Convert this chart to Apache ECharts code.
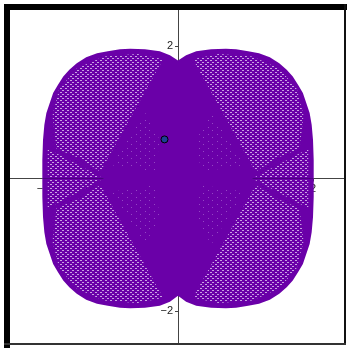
<!DOCTYPE html>
<html>
<head>
<meta charset="utf-8">
<script src="https://cdn.jsdelivr.net/npm/echarts@6/dist/echarts.min.js"></script>
<style>
  html, body { margin: 0; padding: 0; background: #fff; }
  #chart { width: 347px; height: 348px; }
</style>
</head>
<body>
<div id="chart"></div>
<script>
// Outer boundary of the traced curve (x, y), clockwise from the top cusp
const outline = [
  [0, 1.78], [0.12, 1.86], [0.27, 1.92], [0.49, 1.95], [0.71, 1.96], [0.86, 1.95],
  [1.04, 1.92], [1.20, 1.89], [1.36, 1.83], [1.50, 1.74], [1.61, 1.64], [1.70, 1.54],
  [1.78, 1.41], [1.85, 1.29], [1.90, 1.14], [1.95, 0.99], [1.98, 0.81], [2.00, 0.58],
  [2.01, 0.28], [2.01, 0],
  [2.01, -0.28], [2.00, -0.58], [1.98, -0.81], [1.95, -0.99], [1.90, -1.14], [1.85, -1.29],
  [1.78, -1.41], [1.70, -1.54], [1.61, -1.64], [1.50, -1.74], [1.36, -1.83], [1.20, -1.89],
  [1.04, -1.92], [0.86, -1.95], [0.71, -1.96], [0.49, -1.95], [0.27, -1.92], [0.12, -1.86],
  [0, -1.77],
  [-0.12, -1.86], [-0.27, -1.92], [-0.49, -1.95], [-0.71, -1.96], [-0.86, -1.95],
  [-1.04, -1.92], [-1.20, -1.89], [-1.36, -1.83], [-1.50, -1.74], [-1.61, -1.64], [-1.70, -1.54],
  [-1.78, -1.41], [-1.85, -1.29], [-1.90, -1.14], [-1.95, -0.99], [-1.98, -0.81], [-2.00, -0.58],
  [-2.01, -0.28], [-2.01, 0],
  [-2.01, 0.28], [-2.00, 0.58], [-1.98, 0.81], [-1.95, 0.99], [-1.90, 1.14], [-1.85, 1.29],
  [-1.78, 1.41], [-1.70, 1.54], [-1.61, 1.64], [-1.50, 1.74], [-1.36, 1.83], [-1.20, 1.89],
  [-1.04, 1.92], [-0.86, 1.95], [-0.71, 1.96], [-0.49, 1.95], [-0.27, 1.92], [-0.12, 1.86]
];

// Open lattice regions where the strands spread apart
const meshUpperLeft = [
  [-0.22, 1.80], [-1.15, 0.10], [-1.45, 0.30], [-1.80, 0.45], [-1.86, 0.95],
  [-1.76, 1.35], [-1.50, 1.66], [-1.10, 1.84], [-0.60, 1.88]
];
const meshUpperRight = [
  [0.22, 1.80], [1.15, 0.10], [1.45, 0.30], [1.80, 0.45], [1.86, 0.95],
  [1.76, 1.35], [1.50, 1.66], [1.10, 1.84], [0.60, 1.88]
];
const meshLowerLeft = [
  [-0.22, -1.80], [-1.15, -0.10], [-1.45, -0.30], [-1.80, -0.45], [-1.86, -0.95],
  [-1.76, -1.35], [-1.50, -1.66], [-1.10, -1.84], [-0.60, -1.88]
];
const meshLowerRight = [
  [0.22, -1.80], [1.15, -0.10], [1.45, -0.30], [1.80, -0.45], [1.86, -0.95],
  [1.76, -1.35], [1.50, -1.66], [1.10, -1.84], [0.60, -1.88]
];
const fanLeft = [[-1.93, 0.45], [-1.10, 0.0], [-1.93, -0.45]];
const fanRight = [[1.93, 0.45], [1.10, 0.0], [1.93, -0.45]];

// Sparse speckled patches inside the central lens
const speckUpperLeft = [[-0.49, 1.00], [-0.98, 0.20], [-0.34, 0.10], [-0.27, 0.58]];
const speckUpperRight = [[0.49, 1.00], [0.98, 0.20], [0.34, 0.10], [0.27, 0.58]];
const speckLowerLeft = [[-0.49, -1.00], [-0.98, -0.20], [-0.34, -0.10], [-0.27, -0.58]];
const speckLowerRight = [[0.49, -1.00], [0.98, -0.20], [0.34, -0.10], [0.27, -0.58]];

// Dense strands running along the x axis through the side fans
const seamLeft = [[-2.0, 0], [-1.1, 0]];
const seamRight = [[1.1, 0], [2.0, 0]];

// Marked point
const marker = [[-0.20, 0.59]];

// Tick values shown on each axis
const xTicks = [-2, 2];
const yTicks = [-2, 2];

const PURPLE = '#6a00a8';

// Tiles used to fill the open-lattice and speckled regions
function tile(w, h, dots, color) {
  const c = document.createElement('canvas');
  c.width = w; c.height = h;
  const g = c.getContext('2d');
  g.fillStyle = PURPLE;
  g.fillRect(0, 0, w, h);
  g.fillStyle = color;
  dots.forEach(d => g.fillRect(d[0], d[1], d[2], d[3]));
  return c;
}
const lattice = {
  image: tile(5, 4, [[0, 0, 2, 1], [3, 2, 1, 1], [2, 2, 1, 1]], 'rgba(242,230,252,0.7)'),
  repeat: 'repeat'
};
const speckle = {
  image: tile(9, 7, [[1, 1, 1, 1], [5, 4, 1, 1]], 'rgba(225,200,250,0.35)'),
  repeat: 'repeat'
};

function regionSeries(points, fill, z) {
  return {
    type: 'custom',
    coordinateSystem: 'cartesian2d',
    data: points,
    z: z,
    silent: true,
    renderItem: function (params, api) {
      if (params.dataIndex !== 0) return;
      return {
        type: 'polygon',
        shape: { points: points.map(p => api.coord(p)) },
        style: { fill: fill }
      };
    }
  };
}

function seamSeries(points) {
  return {
    type: 'line', data: points, z: 4, silent: true, symbol: 'none',
    lineStyle: { color: '#4c0080', width: 1 }
  };
}

const fmt = v => (v < 0 ? '\u2212' + Math.abs(v) : String(v));
const labelFont = 'Liberation Sans, Arial, sans-serif';

const chart = echarts.init(document.getElementById('chart'), null, { renderer: 'canvas' });
chart.setOption({
  animation: false,
  backgroundColor: '#fff',
  grid: { left: 10, right: 3, top: 10, bottom: 5, containLabel: false, outerBoundsMode: 'none' },
  xAxis: {
    type: 'value', min: -2.489, max: 2.459,
    position: 'bottom', offset: -164.5,
    axisLine: { onZero: false, lineStyle: { color: '#444', width: 1 } },
    axisTick: { show: true, customValues: xTicks, length: 3, lineStyle: { color: '#444' } },
    axisLabel: { customValues: xTicks, formatter: fmt, color: '#222', fontSize: 11,
                 fontFamily: labelFont, margin: 5 },
    splitLine: { show: false }
  },
  yAxis: {
    type: 'value', min: -2.483, max: 2.543,
    position: 'left', offset: -168,
    axisLine: { onZero: false, lineStyle: { color: '#444', width: 1 } },
    axisTick: { show: true, customValues: yTicks, length: 3, lineStyle: { color: '#444' } },
    axisLabel: { customValues: yTicks, formatter: fmt, color: '#222', fontSize: 11,
                 fontFamily: labelFont, margin: 5 },
    splitLine: { show: false }
  },
  graphic: [
    { type: 'rect', z: 100, shape: { x: 4, y: 4, width: 6, height: 344 }, style: { fill: '#000' } },
    { type: 'rect', z: 100, shape: { x: 4, y: 4, width: 343, height: 6 }, style: { fill: '#000' } },
    { type: 'rect', z: 100, shape: { x: 344, y: 4, width: 2, height: 341 }, style: { fill: '#111' } },
    { type: 'rect', z: 100, shape: { x: 4, y: 343, width: 342, height: 2 }, style: { fill: '#333' } }
  ],
  series: [
    regionSeries(outline, PURPLE, 2),
    regionSeries(meshUpperLeft, lattice, 3),
    regionSeries(meshUpperRight, lattice, 3),
    regionSeries(meshLowerLeft, lattice, 3),
    regionSeries(meshLowerRight, lattice, 3),
    regionSeries(fanLeft, lattice, 3),
    regionSeries(fanRight, lattice, 3),
    regionSeries(speckUpperLeft, speckle, 3),
    regionSeries(speckUpperRight, speckle, 3),
    regionSeries(speckLowerLeft, speckle, 3),
    regionSeries(speckLowerRight, speckle, 3),
    seamSeries(seamLeft),
    seamSeries(seamRight),
    {
      type: 'scatter', data: marker, z: 5, symbolSize: 7,
      itemStyle: { color: '#1c3f94', borderColor: '#000', borderWidth: 1, opacity: 1 }
    }
  ]
});
</script>
</body>
</html>
